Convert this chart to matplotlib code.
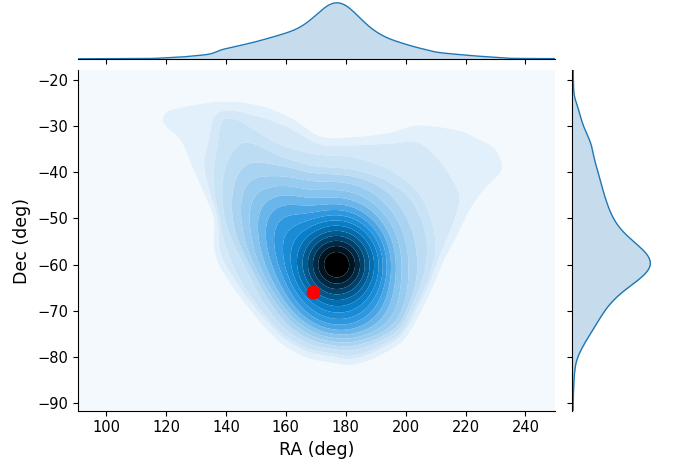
import numpy as np
import matplotlib
matplotlib.use("Agg")
import matplotlib.pyplot as plt
from matplotlib.colors import LinearSegmentedColormap
from matplotlib.path import Path

# ---- density model
# compact components (RA centre, Dec centre, RA width, Dec width, weight)
comp_ra   = [177.0, 177.0, 147.0, 158.0, 180.0, 177.0]
comp_dec  = [-60.0, -59.5, -45.0, -52.0, -70.0, -52.0]
comp_sra  = [6.5,   13.0,   6.0,   7.0,  12.0,  45.0]
comp_sdec = [4.2,    9.5,   8.0,   8.0,   5.0,  25.0]
comp_w    = [0.17,  0.28, 0.015,  0.04,  0.03,  0.08]

# extended outer region (outline RA/Dec) and its weight
outer_ra  = [117.0, 120.4, 128.0, 137.0, 145.0, 153.7, 160.0, 164.8, 170.4, 174.8, 185.8, 195.8, 202.4, 210.0, 219.4, 226.0, 230.4, 233.7, 227.0, 221.4, 217.0, 212.4, 208.0, 202.4, 198.0, 188.0, 181.4, 176.0, 167.0, 159.3, 152.5, 144.8, 138.0, 135.8, 137.0, 133.7, 129.0, 124.8, 118.0]
outer_dec = [-28.0, -26.2, -25.2, -24.3, -24.6, -25.8, -27.5, -29.4, -32.4, -33.0, -32.4, -31.3, -29.6, -29.8, -30.9, -33.0, -34.5, -39.5, -43.2, -48.2, -54.0, -59.0, -64.9, -70.6, -75.8, -79.3, -80.7, -79.5, -78.6, -75.8, -71.4, -66.2, -60.5, -56.2, -49.7, -46.0, -39.6, -33.0, -29.6]
outer_w = 0.27
# second region
inner_ra  = [139.7, 144.7, 149.1, 158.0, 169.2, 182.5, 193.6, 200.3, 204.7, 208.0, 209.1, 206.9, 202.5, 199.2, 191.4, 180.3, 171.4, 163.6, 155.8, 148.0, 141.4, 137.5, 136.5, 136.4, 137.5, 137.5]
inner_dec = [-27.6, -28.7, -31.6, -35.9, -38.8, -39.5, -41.0, -43.1, -46.0, -51.1, -56.2, -62.7, -68.4, -74.2, -75.7, -76.4, -75.0, -72.1, -67.0, -60.5, -54.7, -49.6, -43.9, -38.1, -33.0, -28.7]
inner_w = 0.08
edge_blur = 1.5

# highlighted object
point_ra = [169.1]
point_dec = [-65.9]

x_ticks = [100, 120, 140, 160, 180, 200, 220, 240]
y_ticks = [-20, -30, -40, -50, -60, -70, -80, -90]
x_range = (90.5, 250.0)
y_range = (-91.7, -17.9)
n_levels = 20

# ---- density grid
gx = np.linspace(x_range[0], x_range[1], 400)
gy = np.linspace(y_range[0], y_range[1], 300)
dx, dy = gx[1] - gx[0], gy[1] - gy[0]
X, Y = np.meshgrid(gx, gy)
Z = np.zeros_like(X)
for ra, de, sr, sd, w in zip(comp_ra, comp_dec, comp_sra, comp_sdec, comp_w):
    Z += w / (2 * np.pi * sr * sd) * np.exp(-0.5 * (((X - ra) / sr) ** 2 + ((Y - de) / sd) ** 2))


def blurred_region(ra, dec, sigma):
    path = Path(np.column_stack([ra, dec]))
    mask = path.contains_points(np.column_stack([X.ravel(), Y.ravel()])).reshape(X.shape).astype(float)
    area = mask.sum() * dx * dy
    for axis, step in ((1, dx), (0, dy)):
        half = int(np.ceil(4 * sigma / step))
        k = np.exp(-0.5 * (np.arange(-half, half + 1) * step / sigma) ** 2)
        k /= k.sum()
        mask = np.apply_along_axis(lambda v: np.convolve(v, k, mode="same"), axis, mask)
    return mask / area


Z += outer_w * blurred_region(outer_ra, outer_dec, edge_blur)
Z += inner_w * blurred_region(inner_ra, inner_dec, edge_blur)

# iso-proportion levels (as seaborn does)
vals = np.sort(Z.ravel())[::-1]
cum = np.cumsum(vals) / vals.sum()
props = np.linspace(0, 1, n_levels)
idx = np.searchsorted(cum, 1 - props)
levels = np.take(vals, idx, mode="clip")
levels = np.unique(levels)
levels[0] = Z.min() - 1e-12

cmap = LinearSegmentedColormap.from_list(
    "bk", [(0.0, "#f4f9fd"), (0.07, "#dcedf9"), (0.22, "#bcdcf4"), (0.40, "#82c1ec"),
           (0.55, "#2f98e0"), (0.66, "#0a80cc"), (0.78, "#005a90"), (0.90, "#00263f"), (1.0, "#000000")])
nb = len(levels) - 1
band_colors = [cmap(i / (nb - 1)) for i in range(nb)]

marg_x = Z.sum(axis=0)
marg_y = Z.sum(axis=1)

fig = plt.figure(figsize=(6.76, 4.61), dpi=100)
ax = fig.add_axes([0.115, 0.109, 0.7065, 0.7385])
ax_top = fig.add_axes([0.115, 0.872, 0.7065, 0.128], sharex=ax)
ax_right = fig.add_axes([0.8466, 0.109, 0.1212, 0.7385], sharey=ax)

ax.contourf(X, Y, Z, levels=levels, colors=band_colors, antialiased=True)
ax.plot(point_ra, point_dec, "o", color="red", markersize=9, zorder=5)

c0 = "#1f77b4"
ax_top.fill_between(gx, 0, marg_x, color=c0, alpha=0.25, linewidth=0)
ax_top.plot(gx, marg_x, color=c0, linewidth=1.0)
ax_top.set_ylim(0, marg_x.max() * 1.05)

ax_right.fill_betweenx(gy, 0, marg_y, color=c0, alpha=0.25, linewidth=0)
ax_right.plot(marg_y, gy, color=c0, linewidth=1.0)
ax_right.set_xlim(0, marg_y.max() * 1.05)

ax.set_xlim(*x_range)
ax.set_ylim(*y_range)
ax.set_xticks(x_ticks)
ax.set_yticks(y_ticks)
ax.tick_params(labelsize=10.5)
ax.set_xlabel("RA (deg)", fontsize=12.5)
ax.set_ylabel("Dec (deg)", fontsize=12.5)
for s in ("top", "right"):
    ax.spines[s].set_visible(False)

for s in ("top", "right", "left"):
    ax_top.spines[s].set_visible(False)
ax_top.tick_params(axis="x", labelbottom=False)
ax_top.tick_params(axis="y", left=False, labelleft=False)

for s in ("top", "right", "bottom"):
    ax_right.spines[s].set_visible(False)
ax_right.tick_params(axis="y", labelleft=False)
ax_right.tick_params(axis="x", bottom=False, labelbottom=False)

fig.savefig("out.png", dpi=100)
